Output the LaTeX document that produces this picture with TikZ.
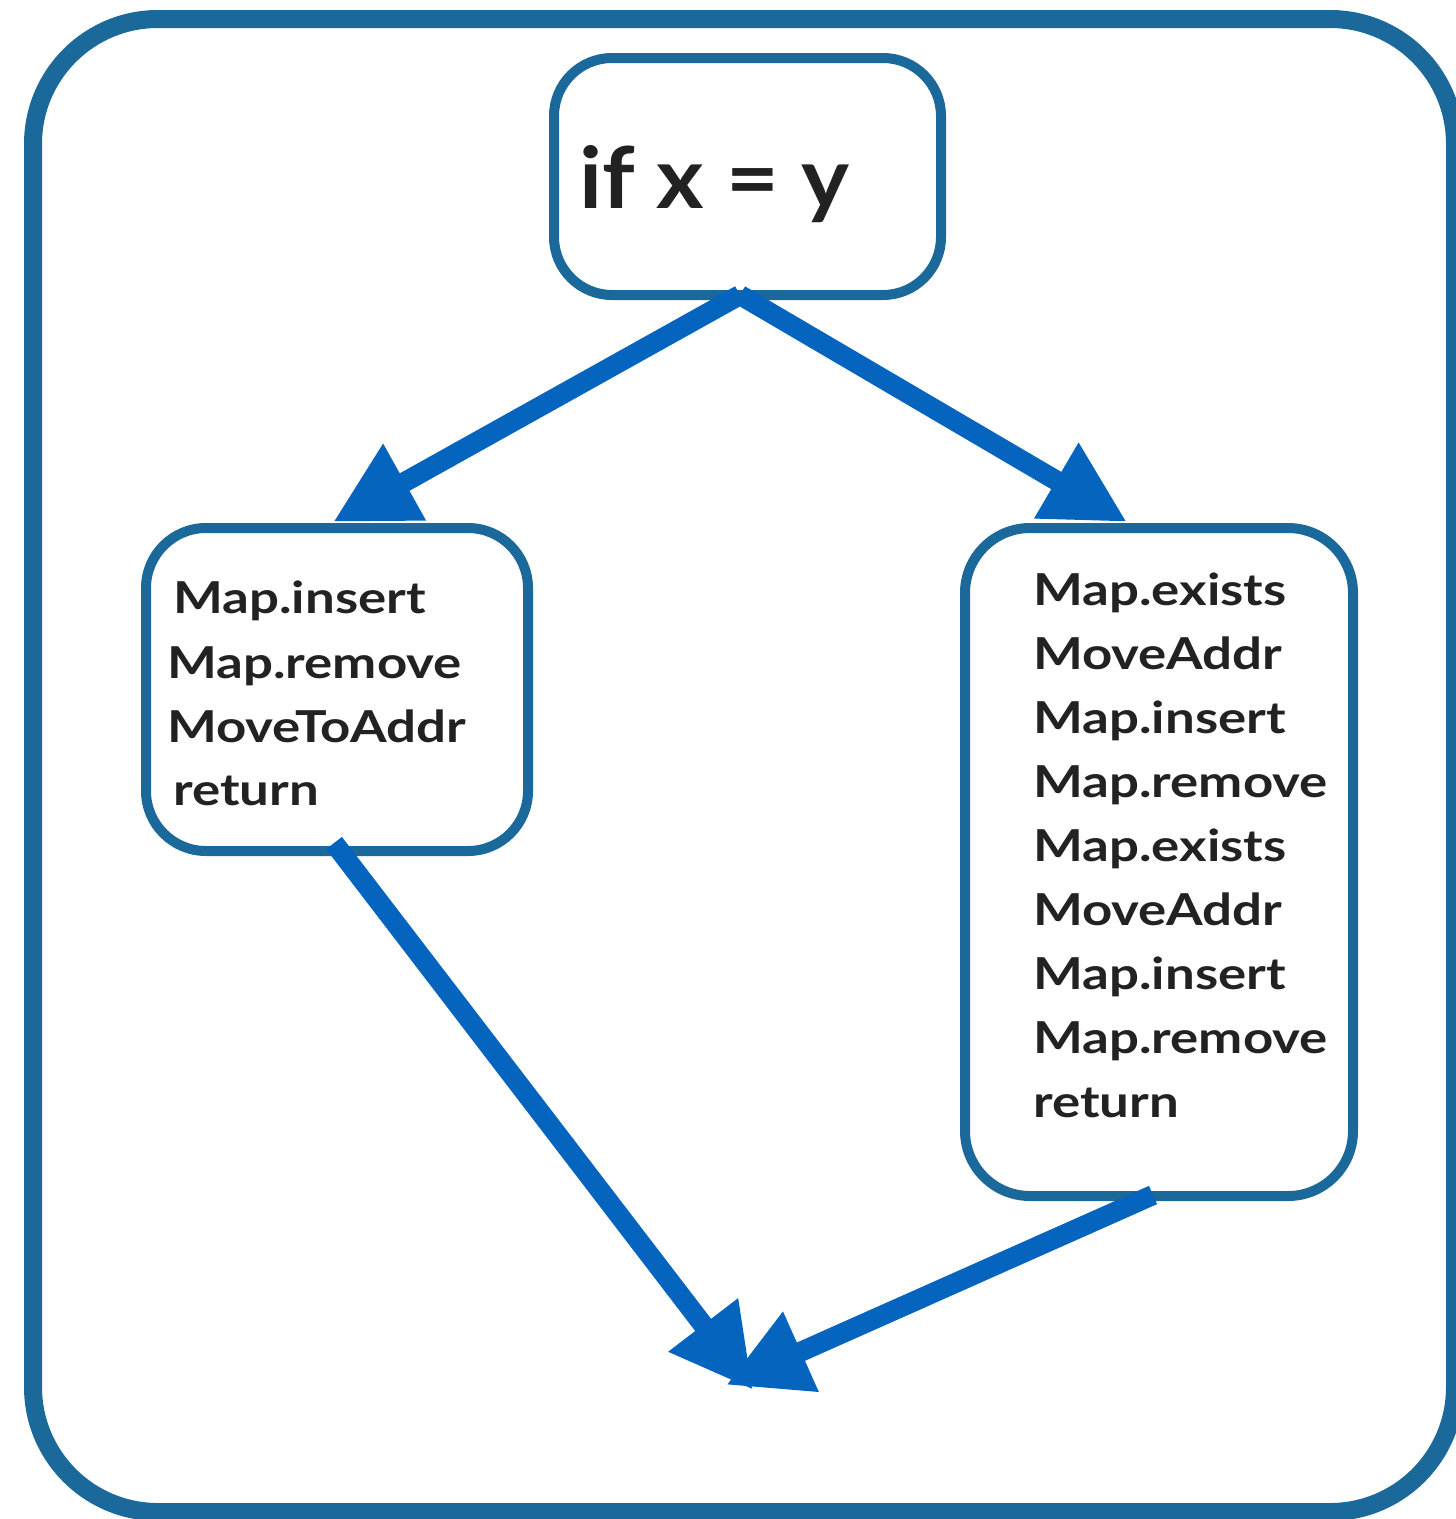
\documentclass[tikz,border=0pt]{standalone}
\usepackage{fontspec}
\setmainfont{Lato}[FakeStretch=1.2]
\newfontfamily\condfont{Lato}[FakeStretch=1.07]
\usetikzlibrary{arrows.meta}
\definecolor{frameblue}{RGB}{27,104,154}
\definecolor{arrowblue}{RGB}{5,100,190}
\definecolor{ink}{RGB}{34,34,34}
\begin{document}
\begin{tikzpicture}[x=1pt,y=-1pt,
  box/.style={draw=frameblue, line width=10pt, rectangle, inner sep=0pt, fill=none},
  outerframe/.style={draw=frameblue, line width=18pt, rounded corners=125pt},
  codeline/.style={anchor=base west, inner sep=0pt, text=ink, font=\bfseries\fontsize{44}{52}\selectfont},
  condtext/.style={anchor=base west, inner sep=0pt, text=ink, font=\condfont\bfseries\fontsize{85}{100}\selectfont},
  flow/.style={draw=arrowblue, line width=20pt, -{Triangle[length=82pt,width=82pt]}}]
\useasboundingbox (0,0) rectangle (1456,1519);
\draw[outerframe] (33,19) rectangle (1455,1512);

\node[box, rounded corners=58pt, minimum width=387pt, minimum height=237pt] (top) at (747.5,176.5) {};
\node[box, rounded corners=60pt, minimum width=382pt, minimum height=323pt] (left) at (337,689.5) {};
\node[box, rounded corners=65pt, minimum width=388pt, minimum height=668pt] (right) at (1159,862) {};

\node[condtext] (cond) at (579,208) {if x = y};

\node[codeline] (l1) at (173,613) {Map.insert};
\node[codeline] (l2) at (167,678) {Map.remove};
\node[codeline] (l3) at (167,742) {MoveToAddr};
\node[codeline] (l4) at (173,805) {return};

\node[codeline] (r1) at (1033,605) {Map.exists};
\node[codeline] (r2) at (1033,669) {MoveAddr};
\node[codeline] (r3) at (1033,733) {Map.insert};
\node[codeline] (r4) at (1033,797) {Map.remove};
\node[codeline] (r5) at (1033,861) {Map.exists};
\node[codeline] (r6) at (1033,925) {MoveAddr};
\node[codeline] (r7) at (1033,989) {Map.insert};
\node[codeline] (r8) at (1033,1053) {Map.remove};
\node[codeline] (r9) at (1033,1117) {return};

\coordinate (apex) at (740,295);
\coordinate (tipL) at (333,522);
\coordinate (tipR) at (1127,522);
\coordinate (startL) at (334,843);
\coordinate (startR) at (1153,1195);
\coordinate (joinL) at (753,1390);
\coordinate (joinR) at (726,1385);

\draw[flow] (apex) -- (tipL);
\draw[flow] (apex) -- (tipR);
\draw[flow] (startL) -- (joinL);
\draw[flow] (startR) -- (joinR);
\end{tikzpicture}
\end{document}
